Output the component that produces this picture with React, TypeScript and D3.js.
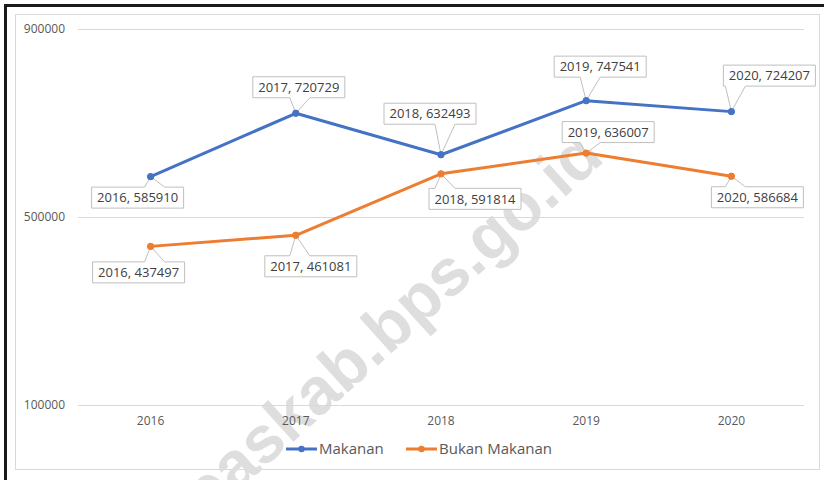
import React from 'react';
import * as d3 from 'd3';

const years = ['2016', '2017', '2018', '2019', '2020'];
const makanan = [585910, 720729, 632493, 747541, 724207];
const bukanMakanan = [437497, 461081, 591814, 636007, 586684];
const yTicks = [100000, 500000, 900000];
const seriesNames = ['Makanan', 'Bukan Makanan'];
const seriesColors = ['#4472C4', '#ED7D31'];
const watermark = 'easkab.bps.go.id';

// label box centre offsets relative to each point (layout only)
const offsetsMakanan = [[-13, 21], [3, -26], [-11, -41], [14, -34], [38, -36]];
const offsetsBukan = [[-12, 26], [15, 31], [34, 25], [22, -21], [26, 21]];

const W = 824;
const H = 480;
const FONT = "'Open Sans', 'Liberation Sans', sans-serif";

export default function App() {
  const x = d3.scaleBand<string>().domain(years).range([78, 804]);
  const y = d3.scaleLinear().domain([100000, 900000]).range([405, 29]);
  const cx = (yr: string) => (x(yr) as number) + x.bandwidth() / 2;

  const line = d3
    .line<number>()
    .x((_, i) => cx(years[i]))
    .y((v) => y(v));

  const series = [
    { name: seriesNames[0], color: seriesColors[0], values: makanan, offs: offsetsMakanan },
    { name: seriesNames[1], color: seriesColors[1], values: bukanMakanan, offs: offsetsBukan },
  ];

  const bw = 92;
  const bh = 21;

  const calloutPath = (px: number, py: number, bx: number, by: number) => {
    const x0 = bx - bw / 2;
    const x1 = bx + bw / 2;
    const y0 = by - bh / 2;
    const y1 = by + bh / 2;
    const c = Math.max(x0 + 12, Math.min(x1 - 12, px + 4));
    const b0 = c - 10;
    const b1 = c + 10;
    if (py < y0) {
      return `M${x0},${y0}L${b0},${y0}L${px},${py}L${b1},${y0}L${x1},${y0}L${x1},${y1}L${x0},${y1}Z`;
    }
    return `M${x0},${y0}L${x1},${y0}L${x1},${y1}L${b1},${y1}L${px},${py}L${b0},${y1}L${x0},${y1}Z`;
  };

  return (
    <svg
      width={W}
      height={H}
      style={{ position: 'absolute', left: 0, top: 0, background: '#fff' }}
      fontFamily={FONT}
    >
      <rect x={0} y={0} width={W} height={H} fill="#fff" />
      {/* outer dark frame (left & top) */}
      <line x1={5.5} y1={4} x2={5.5} y2={H} stroke="#1a1a1a" strokeWidth={3} />
      <line x1={4} y1={5.5} x2={W} y2={5.5} stroke="#1a1a1a" strokeWidth={3} />
      {/* chart area border */}
      <rect x={15.5} y={14.5} width={804} height={455} fill="#fff" stroke="#d9d9d9" strokeWidth={1} />

      {/* watermark (partially outside the picture, as in the source) */}
      <text
        transform={`translate(606,160) rotate(-42)`}
        textAnchor="end"
        fontFamily="'Liberation Sans', Arial, sans-serif"
        fontWeight="bold"
        fontSize={66}
        fill="#dedede"
      >
        {watermark}
      </text>

      {/* gridlines */}
      {yTicks.map((t) => (
        <g key={t}>
          <line x1={78} x2={804} y1={y(t) + 0.5} y2={y(t) + 0.5} stroke="#d9d9d9" strokeWidth={1} />
          <text x={65} y={y(t)} dy="0.35em" textAnchor="end" fontSize={12} fill="#595959">
            {t}
          </text>
        </g>
      ))}

      {/* x labels */}
      {years.map((yr) => (
        <text key={yr} x={cx(yr)} y={421} dy="0.35em" textAnchor="middle" fontSize={12} fill="#595959">
          {yr}
        </text>
      ))}

      {/* lines */}
      {series.map((s) => (
        <path key={s.name} d={line(s.values) as string} fill="none" stroke={s.color} strokeWidth={3} strokeLinejoin="round" />
      ))}

      {/* data labels */}
      {series.map((s) =>
        s.values.map((v, i) => {
          const px = cx(years[i]);
          const py = y(v);
          const bx = px + s.offs[i][0];
          const by = py + s.offs[i][1];
          return (
            <g key={s.name + i}>
              <path d={calloutPath(px, py, bx, by)} fill="#fff" stroke="#bfbfbf" strokeWidth={1} />
              <text x={bx} y={by} dy="0.36em" textAnchor="middle" fontSize={13} fill="#404040">
                {`${years[i]}, ${v}`}
              </text>
            </g>
          );
        })
      )}

      {/* markers */}
      {series.map((s) =>
        s.values.map((v, i) => (
          <circle key={s.name + 'm' + i} cx={cx(years[i])} cy={y(v)} r={3.2} fill={s.color} stroke={s.color} strokeWidth={1} />
        ))
      )}

      {/* legend */}
      <g>
        <line x1={286} x2={317} y1={449} y2={449} stroke={seriesColors[0]} strokeWidth={3} />
        <circle cx={301.5} cy={449} r={3.2} fill={seriesColors[0]} />
        <text x={319} y={449} dy="0.35em" fontSize={15} fill="#595959">
          {seriesNames[0]}
        </text>
        <line x1={406} x2={437} y1={449} y2={449} stroke={seriesColors[1]} strokeWidth={3} />
        <circle cx={421.5} cy={449} r={3.2} fill={seriesColors[1]} />
        <text x={439} y={449} dy="0.35em" fontSize={15} fill="#595959">
          {seriesNames[1]}
        </text>
      </g>
    </svg>
  );
}
